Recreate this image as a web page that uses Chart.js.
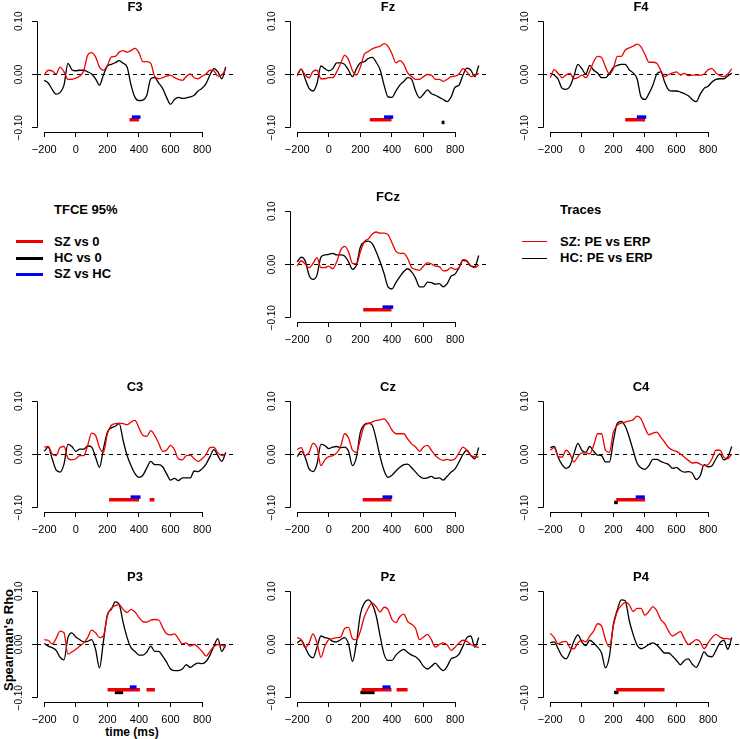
<!DOCTYPE html>
<html>
<head>
<meta charset="utf-8">
<script src="https://cdn.jsdelivr.net/npm/chart.js@4.4.1/dist/chart.umd.min.js"></script>
<style>
  body { margin: 0; background: #fff; }
  #page { position: relative; width: 740px; height: 739px; overflow: hidden;
          font-family: "Liberation Sans", Arial, sans-serif; color: #000; }
  .panel { position: absolute; width: 252px; height: 175px; }
  .ttl { position: absolute; font-weight: bold; font-size: 13px; line-height: 14px;
         transform: translateX(-50%); white-space: nowrap; }
  .lg { position: absolute; font-weight: bold; font-size: 13px; line-height: 14px;
        transform: translateY(-50%); white-space: nowrap; }
  .sw { position: absolute; }
  .rot { position: absolute; font-weight: bold; font-size: 13px; white-space: nowrap;
         transform: translate(-50%, -50%) rotate(-90deg); }
  .xt { position: absolute; font-weight: bold; font-size: 12px; white-space: nowrap;
        transform: translate(-50%, -50%); }
</style>
</head>
<body>
<div id="page">
  <div class="lg" style="left:54px;top:210px">TFCE 95%</div>
  <div class="sw" style="left:16px;top:240px;width:27px;height:3px;background:#ee0000"></div>
  <div class="sw" style="left:16px;top:257px;width:27px;height:3px;background:#000"></div>
  <div class="sw" style="left:16px;top:273px;width:27px;height:3px;background:#0000ee"></div>
  <div class="lg" style="left:54px;top:242px">SZ vs 0</div>
  <div class="lg" style="left:54px;top:258px">HC vs 0</div>
  <div class="lg" style="left:54px;top:274px">SZ vs HC</div>

  <div class="lg" style="left:560px;top:210px">Traces</div>
  <div class="sw" style="left:522px;top:241px;width:25px;height:1px;background:#ee0000"></div>
  <div class="sw" style="left:522px;top:258px;width:25px;height:1px;background:#000"></div>
  <div class="lg" style="left:560px;top:242px">SZ: PE vs ERP</div>
  <div class="lg" style="left:560px;top:258px">HC: PE vs ERP</div>

  <div class="rot" style="left:8px;top:640px">Spearman's Rho</div>
  <div class="xt" style="left:132px;top:732px">time (ms)</div>
</div>

<script>
// time points of the traces (ms)
const times = [-200,-175,-150,-125,-100,-75,-50,-25,0,25,50,75,100,125,150,175,200,225,250,275,300,325,
  350,375,400,425,450,475,500,525,550,575,600,625,650,675,700,725,750,775,800,825,850,875,900,925,950];
const xTicks = [-200, 0, 200, 400, 600, 800];
const yTicks = [-0.1, 0, 0.1];
const xMin = -246, xMax = 996, yMin = -0.108, yMax = 0.108;
const sigLevelSZ = -0.085, sigLevelHC = -0.090, sigLevelDiff = -0.080;

// SZ = red trace, HC = black trace; sig lists are [from, to] in ms
const F3_SZ = [-0.001,0.008,0.007,0.001,0.014,0.005,-0.009,-0.009,-0.007,-0.003,0.007,0.036,0.041,0.033,0.014,0.008,0.017,0.033,0.034,0.042,0.045,0.042,0.045,0.049,0.041,0.024,0.024,0.021,-0.004,-0.008,-0.006,-0.003,-0.001,-0.006,-0.009,-0.011,-0.004,0.001,-0.006,-0.008,-0.003,0.001,0.008,0.007,-0.003,-0.001,0.011];
const F3_HC = [-0.011,-0.016,-0.028,-0.037,-0.034,-0.020,0.021,0.009,0.007,0.008,0.008,0.005,0.001,-0.008,-0.020,-0.001,0.016,0.019,0.022,0.026,0.021,0.014,-0.020,-0.043,-0.049,-0.048,-0.039,-0.008,-0.006,-0.016,-0.026,-0.043,-0.056,-0.047,-0.043,-0.045,-0.044,-0.042,-0.039,-0.031,-0.026,-0.017,-0.001,0.011,0.005,-0.008,0.014];
const F3_sigSZ = [[340, 400]], F3_sigHC = [], F3_sigDiff = [[355, 410]];

const Fz_SZ = [-0.003,0.010,-0.001,-0.006,0.006,0.008,-0.008,-0.008,-0.006,-0.006,0.005,0.021,0.036,0.028,0.007,-0.001,0.014,0.038,0.043,0.048,0.051,0.053,0.058,0.053,0.039,0.022,0.026,0.019,0.003,-0.004,-0.009,-0.009,-0.004,0.000,-0.001,-0.009,-0.009,-0.013,-0.009,-0.004,-0.003,0.001,0.011,0.005,-0.004,-0.001,0.002];
const Fz_HC = [-0.001,0.010,-0.008,-0.026,-0.031,-0.017,0.016,0.011,0.007,0.011,0.022,0.022,0.019,0.008,-0.004,0.011,0.022,0.024,0.030,0.032,0.023,0.009,-0.020,-0.042,-0.043,-0.031,-0.020,-0.013,-0.006,-0.009,-0.031,-0.044,-0.037,-0.029,-0.036,-0.039,-0.043,-0.047,-0.051,-0.042,-0.024,-0.020,-0.001,0.012,0.008,-0.004,0.017];
const Fz_sigSZ = [[260, 397]], Fz_sigHC = [[715, 733]], Fz_sigDiff = [[350, 408]];

const F4_SZ = [-0.006,0.009,0.002,-0.006,-0.001,0.002,-0.008,-0.006,-0.001,-0.006,0.006,0.024,0.034,0.032,0.014,0.001,0.011,0.034,0.034,0.046,0.050,0.053,0.057,0.052,0.038,0.023,0.023,0.021,0.008,-0.004,0.000,0.003,0.005,-0.001,0.002,-0.002,-0.001,-0.001,-0.001,0.001,0.009,0.011,0.003,-0.002,-0.004,0.001,0.011];
const F4_HC = [0.002,-0.001,-0.009,-0.026,-0.028,-0.022,-0.003,0.019,0.011,0.001,0.017,0.008,0.003,-0.006,-0.006,0.002,0.013,0.017,0.019,0.019,0.009,0.003,-0.008,-0.042,-0.047,-0.036,-0.020,0.001,0.005,-0.014,-0.029,-0.031,-0.031,-0.033,-0.036,-0.040,-0.047,-0.051,-0.037,-0.026,-0.022,-0.014,-0.009,-0.008,-0.008,-0.003,0.003];
const F4_sigSZ = [[275, 401]], F4_sigHC = [], F4_sigDiff = [[349, 408]];

const FCz_SZ = [-0.003,0.007,0.001,-0.006,0.002,0.013,-0.006,-0.006,-0.003,-0.008,0.005,0.027,0.034,0.024,0.002,0.001,0.024,0.043,0.048,0.057,0.061,0.059,0.059,0.056,0.041,0.025,0.021,0.021,0.011,-0.006,-0.009,-0.011,-0.003,0.003,0.001,-0.003,-0.004,-0.012,-0.011,-0.006,-0.009,-0.006,0.009,0.007,-0.003,-0.006,-0.001];
const FCz_HC = [0.005,0.014,0.007,-0.020,-0.028,-0.020,0.014,0.018,0.019,0.021,0.018,0.018,0.016,0.005,-0.009,-0.001,0.033,0.042,0.044,0.039,0.024,0.005,-0.017,-0.042,-0.046,-0.034,-0.023,-0.013,-0.008,-0.014,-0.026,-0.042,-0.042,-0.033,-0.034,-0.037,-0.036,-0.042,-0.036,-0.022,-0.018,-0.006,0.008,0.006,-0.003,-0.004,0.017];
const FCz_sigSZ = [[218, 397]], FCz_sigHC = [], FCz_sigDiff = [[340, 408]];

const C3_SZ = [0.014,0.015,0.001,-0.002,0.013,0.015,-0.007,-0.010,-0.008,-0.002,-0.002,0.017,0.040,0.036,0.013,0.004,0.039,0.055,0.058,0.059,0.058,0.056,0.061,0.064,0.050,0.036,0.034,0.045,0.036,0.021,0.006,0.008,0.017,0.009,-0.008,-0.010,-0.002,-0.001,-0.008,-0.013,-0.008,0.000,0.013,0.014,0.003,-0.002,0.001];
const C3_HC = [0.006,0.014,-0.008,-0.029,-0.033,-0.018,0.019,0.015,0.006,0.010,0.010,0.016,0.014,-0.005,-0.024,0.011,0.042,0.050,0.053,0.058,0.026,-0.002,-0.021,-0.036,-0.043,-0.039,-0.025,-0.013,-0.019,-0.019,-0.023,-0.036,-0.048,-0.045,-0.049,-0.044,-0.044,-0.044,-0.031,-0.032,-0.027,-0.018,-0.004,0.009,-0.002,-0.013,0.004];
const C3_sigSZ = [[211, 401], [468, 498]], C3_sigHC = [], C3_sigDiff = [[347, 410]];

const Cz_SZ = [0.009,0.013,-0.002,0.004,0.021,0.013,-0.021,-0.010,-0.004,-0.002,0.003,0.015,0.039,0.031,0.008,0.004,0.029,0.054,0.058,0.061,0.064,0.065,0.067,0.059,0.046,0.039,0.039,0.039,0.029,0.020,0.014,0.006,0.014,0.017,0.008,-0.002,-0.008,-0.011,-0.009,-0.011,-0.008,0.003,0.014,0.008,-0.002,-0.004,-0.005];
const Cz_HC = [-0.004,0.006,-0.005,-0.027,-0.032,-0.018,0.019,0.017,0.011,0.014,0.015,0.013,0.014,0.006,-0.021,-0.005,0.042,0.056,0.059,0.055,0.029,-0.004,-0.030,-0.043,-0.039,-0.031,-0.024,-0.019,-0.018,-0.025,-0.033,-0.041,-0.045,-0.044,-0.041,-0.045,-0.044,-0.048,-0.041,-0.033,-0.027,-0.014,0.000,0.008,-0.002,-0.008,0.013];
const Cz_sigSZ = [[215, 397]], Cz_sigHC = [], Cz_sigDiff = [[340, 402]];

const C4_SZ = [0.008,0.013,-0.004,-0.005,0.008,0.001,-0.014,-0.004,0.003,0.003,0.001,0.017,0.039,0.039,0.008,0.004,0.042,0.055,0.059,0.061,0.063,0.065,0.072,0.067,0.050,0.037,0.040,0.042,0.033,0.023,0.013,0.008,0.006,0.001,-0.005,-0.011,-0.016,-0.015,-0.018,-0.021,-0.019,-0.008,0.008,0.008,-0.005,-0.008,0.001];
const C4_HC = [0.013,0.015,-0.005,-0.019,-0.026,-0.021,0.001,0.021,0.008,0.004,0.015,0.006,-0.001,-0.002,-0.014,-0.014,0.026,0.059,0.062,0.053,0.033,0.008,-0.016,-0.025,-0.028,-0.021,-0.009,-0.009,-0.013,-0.016,-0.019,-0.026,-0.024,-0.030,-0.033,-0.032,-0.035,-0.047,-0.040,-0.019,-0.023,-0.021,-0.008,0.001,-0.010,-0.005,0.015];
const C4_sigSZ = [[218, 401]], C4_sigHC = [[205, 228]], C4_sigDiff = [[341, 399]];

const P3_SZ = [0.009,0.008,0.001,0.011,0.025,0.022,-0.018,-0.014,-0.009,-0.003,0.003,0.013,0.027,0.022,0.013,0.016,0.054,0.068,0.073,0.075,0.066,0.060,0.066,0.061,0.051,0.043,0.042,0.046,0.047,0.046,0.032,0.020,0.018,0.020,0.011,0.001,0.003,-0.003,0.000,-0.005,-0.013,-0.022,-0.013,-0.004,0.000,-0.001,-0.005];
const P3_HC = [0.002,-0.003,-0.006,-0.011,-0.024,-0.029,0.013,0.022,0.014,0.009,0.005,0.006,0.009,-0.009,-0.044,0.006,0.056,0.066,0.080,0.075,0.041,0.013,-0.006,-0.013,-0.020,-0.020,-0.014,-0.003,-0.013,-0.013,-0.022,-0.033,-0.046,-0.049,-0.049,-0.046,-0.038,-0.043,-0.038,-0.035,-0.036,-0.032,-0.020,-0.003,0.011,-0.013,0.000];
const P3_sigSZ = [[201, 406], [448, 501]], P3_sigHC = [[247, 300]], P3_sigDiff = [[342, 385]];

const Pz_SZ = [0.013,0.009,-0.006,0.003,0.020,0.003,-0.024,-0.003,0.009,0.011,0.013,0.014,0.030,0.032,0.011,0.009,0.025,0.052,0.068,0.078,0.071,0.061,0.070,0.066,0.047,0.041,0.052,0.057,0.043,0.038,0.030,0.009,0.014,0.019,0.009,-0.005,0.000,0.003,-0.001,-0.011,-0.005,0.003,0.008,0.006,0.000,-0.003,-0.006];
const Pz_HC = [0.003,0.008,-0.005,-0.020,-0.025,-0.005,0.016,0.013,0.011,0.006,0.005,0.009,0.013,0.001,-0.032,0.003,0.057,0.078,0.084,0.076,0.054,0.016,-0.018,-0.030,-0.030,-0.020,-0.013,-0.009,-0.015,-0.020,-0.023,-0.030,-0.041,-0.046,-0.041,-0.035,-0.043,-0.049,-0.041,-0.027,-0.024,-0.018,-0.003,0.013,0.016,-0.005,0.013];
const Pz_sigSZ = [[208, 397], [429, 499]], Pz_sigHC = [[200, 290]], Pz_sigDiff = [[340, 391]];

const P4_SZ = [0.021,0.013,0.001,0.005,0.006,-0.006,-0.008,0.003,0.008,0.005,0.016,0.025,0.039,0.035,0.009,-0.005,0.035,0.062,0.073,0.079,0.075,0.062,0.068,0.068,0.055,0.062,0.071,0.063,0.047,0.039,0.025,0.016,0.020,0.024,0.011,0.000,0.004,0.009,0.005,-0.008,0.003,0.013,0.019,0.014,0.011,0.011,0.009];
const P4_HC = [0.003,0.005,-0.008,-0.022,-0.027,-0.014,0.006,0.018,0.005,-0.002,0.008,0.003,-0.005,-0.016,-0.044,-0.022,0.038,0.065,0.084,0.082,0.046,0.019,-0.001,-0.008,-0.005,0.000,0.003,-0.001,-0.009,-0.016,-0.016,-0.022,-0.030,-0.038,-0.030,-0.027,-0.037,-0.043,-0.030,-0.014,-0.022,-0.023,-0.011,0.003,0.008,-0.009,0.013];
const P4_sigSZ = [[218, 524]], P4_sigHC = [[205, 232]], P4_sigDiff = [];

const panels = [
  { name: "F3",  row: 0, col: 0, sz: F3_SZ,  hc: F3_HC,  sigSZ: F3_sigSZ,  sigHC: F3_sigHC,  sigDiff: F3_sigDiff },
  { name: "Fz",  row: 0, col: 1, sz: Fz_SZ,  hc: Fz_HC,  sigSZ: Fz_sigSZ,  sigHC: Fz_sigHC,  sigDiff: Fz_sigDiff },
  { name: "F4",  row: 0, col: 2, sz: F4_SZ,  hc: F4_HC,  sigSZ: F4_sigSZ,  sigHC: F4_sigHC,  sigDiff: F4_sigDiff },
  { name: "FCz", row: 1, col: 1, sz: FCz_SZ, hc: FCz_HC, sigSZ: FCz_sigSZ, sigHC: FCz_sigHC, sigDiff: FCz_sigDiff },
  { name: "C3",  row: 2, col: 0, sz: C3_SZ,  hc: C3_HC,  sigSZ: C3_sigSZ,  sigHC: C3_sigHC,  sigDiff: C3_sigDiff },
  { name: "Cz",  row: 2, col: 1, sz: Cz_SZ,  hc: Cz_HC,  sigSZ: Cz_sigSZ,  sigHC: Cz_sigHC,  sigDiff: Cz_sigDiff },
  { name: "C4",  row: 2, col: 2, sz: C4_SZ,  hc: C4_HC,  sigSZ: C4_sigSZ,  sigHC: C4_sigHC,  sigDiff: C4_sigDiff },
  { name: "P3",  row: 3, col: 0, sz: P3_SZ,  hc: P3_HC,  sigSZ: P3_sigSZ,  sigHC: P3_sigHC,  sigDiff: P3_sigDiff },
  { name: "Pz",  row: 3, col: 1, sz: Pz_SZ,  hc: Pz_HC,  sigSZ: Pz_sigSZ,  sigHC: Pz_sigHC,  sigDiff: Pz_sigDiff },
  { name: "P4",  row: 3, col: 2, sz: P4_SZ,  hc: P4_HC,  sigSZ: P4_sigSZ,  sigHC: P4_sigHC,  sigDiff: P4_sigDiff },
];

const RED = "#ee0000", BLACK = "#000000", BLUE = "#0000ee";
const FONT = '"Liberation Sans", Arial, sans-serif';

function minusSign(s){ return s.replace("-", "\u2212"); }

function trace(vals, color, order){
  return {
    data: times.map((t, i) => ({ x: t, y: vals[i] })),
    borderColor: color, borderWidth: 1.3, pointRadius: 0,
    cubicInterpolationMode: "monotone", order: order
  };
}

function sigBars(list, level, color, order){
  return list.map(s => ({
    data: [{ x: s[0], y: level }, { x: s[1], y: level }],
    borderColor: color, borderWidth: 3.5, borderCapStyle: "butt",
    pointRadius: 0, order: order
  }));
}

// R style axis lines (first to last tick) and rotated y labels
const rAxes = {
  id: "rAxes",
  afterDraw(chart){
    const { ctx, chartArea: a, scales: { x, y } } = chart;
    ctx.save();
    ctx.strokeStyle = "#000";
    ctx.lineWidth = 1;
    const ax = Math.round(a.left) + 0.5, ay = Math.round(a.bottom) + 0.5;
    ctx.beginPath();
    ctx.moveTo(ax, y.getPixelForValue(yTicks[yTicks.length - 1]));
    ctx.lineTo(ax, y.getPixelForValue(yTicks[0]));
    ctx.moveTo(x.getPixelForValue(xTicks[0]), ay);
    ctx.lineTo(x.getPixelForValue(xTicks[xTicks.length - 1]), ay);
    ctx.stroke();

    ctx.fillStyle = "#000";
    ctx.font = "10px " + FONT;
    ctx.textAlign = "center";
    ctx.textBaseline = "middle";
    yTicks.forEach(v => {
      ctx.save();
      ctx.translate(a.left - 18, y.getPixelForValue(v));
      ctx.rotate(-Math.PI / 2);
      ctx.fillText(minusSign(v.toFixed(2)), 0, 0);
      ctx.restore();
    });
    ctx.restore();
  }
};

const page = document.getElementById("page");

panels.forEach(p => {
  const left = p.col * 253, top = p.row * 190;

  const div = document.createElement("div");
  div.className = "panel";
  div.style.left = left + "px";
  div.style.top = top + "px";
  const cv = document.createElement("canvas");
  cv.width = 252; cv.height = 175;
  div.appendChild(cv);
  page.appendChild(div);

  const t = document.createElement("div");
  t.className = "ttl";
  t.textContent = p.name;
  t.style.left = (left + 135) + "px";
  t.style.top = top + "px";
  page.appendChild(t);

  const datasets = [
    ...sigBars(p.sigDiff, sigLevelDiff, BLUE, 0),
    ...sigBars(p.sigSZ, sigLevelSZ, RED, 1),
    ...sigBars(p.sigHC, sigLevelHC, BLACK, 2),
    trace(p.sz, RED, 3),
    trace(p.hc, BLACK, 4),
    { data: [{ x: xMin, y: 0 }, { x: xMax, y: 0 }], borderColor: "#000", borderWidth: 1,
      borderDash: [4, 4], pointRadius: 0, order: 5 }
  ];

  new Chart(cv, {
    type: "line",
    data: { datasets },
    options: {
      responsive: false,
      animation: false,
      events: [],
      layout: { padding: { top: 17, right: 19, left: 0, bottom: 0 } },
      plugins: { legend: { display: false }, tooltip: { enabled: false } },
      scales: {
        x: {
          type: "linear", min: xMin, max: xMax,
          afterBuildTicks: s => { s.ticks = xTicks.map(v => ({ value: v })); },
          afterFit: s => { s.height = 43; },
          grid: { drawOnChartArea: false, drawTicks: true, tickLength: 5, color: "#000" },
          border: { display: false },
          ticks: { autoSkip: false, maxRotation: 0, minRotation: 0, padding: 6, color: "#000",
                   font: { family: FONT, size: 11 },
                   callback: v => minusSign(String(v)) }
        },
        y: {
          type: "linear", min: yMin, max: yMax,
          afterBuildTicks: s => { s.ticks = yTicks.map(v => ({ value: v })); },
          afterFit: s => { s.width = 37; },
          grid: { drawOnChartArea: false, drawTicks: true, tickLength: 5, color: "#000" },
          border: { display: false },
          ticks: { display: false }
        }
      }
    },
    plugins: [rAxes]
  });
});
</script>
</body>
</html>
